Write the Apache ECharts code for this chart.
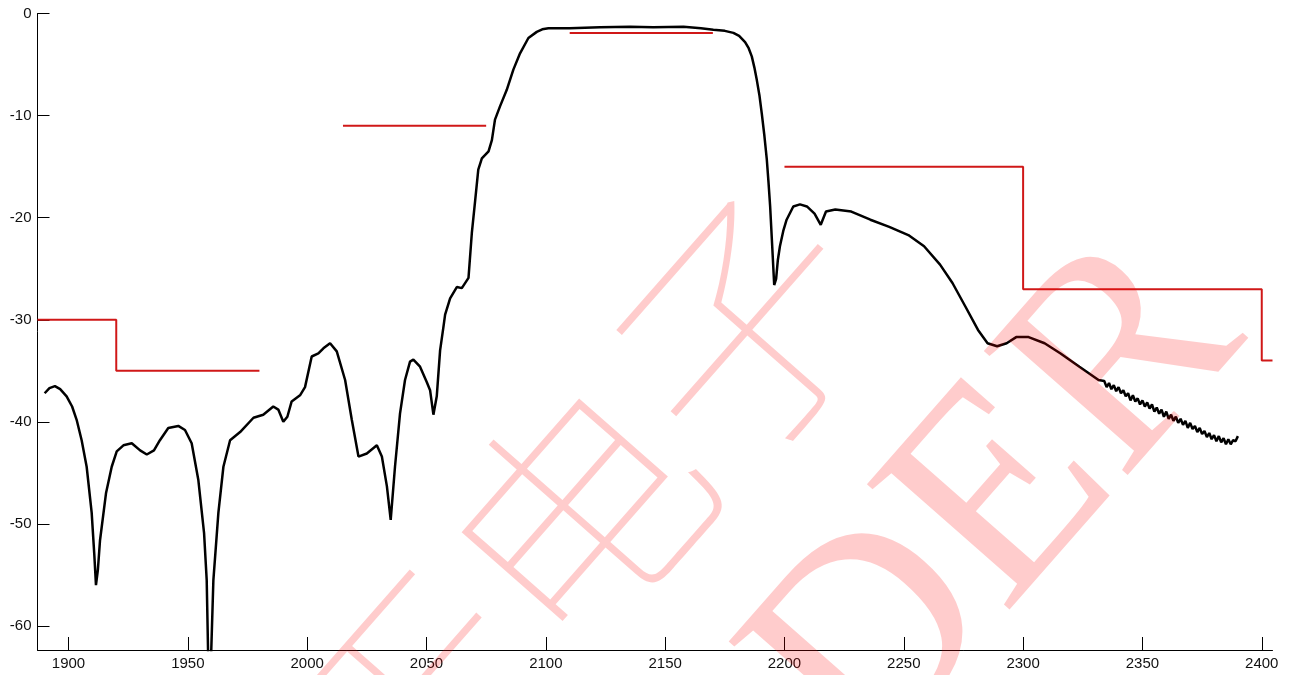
<!DOCTYPE html>
<html lang="en">
<head>
    <meta charset="UTF-8">
    <title>Filter response</title>
    <script src="https://cdn.jsdelivr.net/npm/echarts@6/dist/echarts.min.js"></script>
    <style>
        html, body { margin: 0; padding: 0; background: #fff; }
        #chart { width: 1292px; height: 675px; }
    </style>
</head>
<body>
<div id="chart"></div>
<script>
    // measured response (MHz, dB)
    var freq = [1890.0, 1892.0, 1894.3, 1896.5, 1899.2, 1901.5, 1903.4, 1905.5, 1907.6, 1909.7,
        1910.8, 1911.5, 1912.3, 1913.2, 1915.7, 1918.1, 1920.2, 1923.0, 1926.5, 1930.0,
        1932.8, 1935.8, 1938.3, 1941.8, 1946.0, 1948.8, 1951.6, 1954.4, 1956.8, 1957.9,
        1958.6, 1959.6, 1960.7, 1962.8, 1964.9, 1967.7, 1971.9, 1977.5, 1981.6, 1985.8,
        1987.9, 1990.0, 1991.7, 1993.5, 1997.0, 1999.1, 2001.9, 2004.7, 2006.8, 2009.6,
        2012.4, 2015.9, 2018.7, 2021.5, 2025.0, 2029.2, 2031.3, 2033.4, 2035.0, 2036.8,
        2038.9, 2041.0, 2043.1, 2044.5, 2047.3, 2050.1, 2051.5, 2052.9, 2054.3, 2055.7,
        2057.1, 2057.8, 2059.9, 2062.7, 2064.8, 2067.6, 2069.0, 2070.4, 2071.7, 2073.2,
        2076.0, 2077.4, 2078.7, 2080.8, 2083.6, 2086.4, 2089.2, 2092.7, 2096.2, 2098.5,
        2101.1, 2110.0, 2122.7, 2135.3, 2145.0, 2157.7, 2165.0, 2170.2, 2175.0, 2178.6,
        2181.0, 2183.5, 2185.0, 2186.3, 2187.4, 2188.4, 2189.5, 2190.5, 2191.6, 2192.6,
        2193.3, 2194.0, 2194.8, 2195.7, 2196.5, 2197.2, 2198.1, 2199.5, 2200.9, 2203.7,
        2206.5, 2209.4, 2212.6, 2215.2, 2217.4, 2221.3, 2228.0, 2236.0, 2243.9, 2251.9,
        2258.5, 2265.2, 2270.4, 2275.8, 2281.1, 2285.1, 2289.1, 2293.1, 2297.1, 2302.3,
        2309.0, 2315.7, 2323.6, 2331.6, 2334, 2335, 2336, 2337, 2338, 2339, 2340,
        2341, 2342, 2343, 2344, 2345, 2346, 2347, 2348, 2349, 2350,
        2351, 2352, 2353, 2354, 2355, 2356, 2357, 2358, 2359, 2360,
        2361, 2362, 2363, 2364, 2365, 2366, 2367, 2368, 2369, 2370,
        2371, 2372, 2373, 2374, 2375, 2376, 2377, 2378, 2379, 2380,
        2381, 2382, 2383, 2384, 2385, 2386, 2387, 2388, 2389, 2390];
    var loss = [-37.2, -36.7, -36.5, -36.8, -37.5, -38.5, -39.8, -41.8, -44.4, -48.9,
        -53.0, -56.0, -54.5, -51.6, -47.0, -44.4, -42.9, -42.3, -42.1, -42.8,
        -43.2, -42.8, -41.8, -40.6, -40.4, -40.8, -42.1, -45.7, -50.9, -55.5,
        -64.0, -64.0, -55.5, -48.9, -44.4, -41.8, -41.0, -39.6, -39.3, -38.5,
        -38.8, -40.0, -39.5, -38.0, -37.4, -36.6, -33.6, -33.3, -32.8, -32.3,
        -33.1, -35.9, -39.8, -43.4, -43.1, -42.3, -43.4, -46.3, -49.6, -44.4,
        -39.2, -35.9, -34.1, -33.9, -34.6, -36.1, -36.9, -39.3, -37.5, -33.0,
        -30.7, -29.5, -27.9, -26.8, -26.9, -25.9, -21.5, -18.3, -15.3, -14.2,
        -13.5, -12.4, -10.4, -9.1, -7.5, -5.5, -3.9, -2.4, -1.8, -1.55,
        -1.45, -1.45, -1.35, -1.3, -1.35, -1.3, -1.45, -1.6, -1.7, -1.9,
        -2.2, -2.8, -3.4, -4.2, -5.3, -6.5, -8.0, -9.8, -12.0, -14.3,
        -16.5, -18.9, -22.5, -26.6, -26.0, -24.2, -22.8, -21.3, -20.2, -18.9,
        -18.7, -18.9, -19.6, -20.7, -19.4, -19.2, -19.4, -20.2, -20.9, -21.7,
        -22.8, -24.6, -26.4, -28.7, -31.0, -32.3, -32.6, -32.3, -31.7, -31.7,
        -32.3, -33.3, -34.6, -35.9, -36.0, -36.6, -36.2, -36.8, -36.4, -37.0, -36.6,
        -37.2, -36.9, -37.5, -37.2, -37.9, -37.4, -38.0, -37.7, -38.3, -37.9,
        -38.5, -38.1, -38.7, -38.3, -39.0, -38.6, -39.2, -38.8, -39.5, -39.0,
        -39.7, -39.3, -39.9, -39.5, -40.1, -39.7, -40.3, -39.9, -40.6, -40.1,
        -40.7, -40.4, -41.0, -40.6, -41.2, -40.9, -41.5, -41.1, -41.7, -41.3,
        -41.9, -41.4, -42.0, -41.6, -42.2, -41.7, -42.2, -41.8, -41.9, -41.4];

    // spec mask, null = gap
    var maskX = [1887, 1920, 1920, 1980, null, 2015, 2075, null, 2110, 2170, null, 2200, 2300, 2300, 2400, 2400, 2404.5];
    var maskY = [-30, -30, -35, -35, null, -11, -11, null, -1.9, -1.9, null, -15, -15, -27, -27, -34, -34];

    var xTicks = [1900, 1950, 2000, 2050, 2100, 2150, 2200, 2250, 2300, 2350, 2400];
    var yTicks = [0, -10, -20, -30, -40, -50, -60];

    var respData = freq.map(function (f, i) { return [f, loss[i]]; });
    var maskData = maskX.map(function (x, i) {
        return maskY[i] == null ? ['-', '-'] : [x, maskY[i]];
    });

    var chart = echarts.init(document.getElementById('chart'));
    var labelStyle = {
        color: '#111', fontSize: 15, fontFamily: 'Liberation Sans, Arial, sans-serif',
        formatter: function (v) { return String(v); }
    };
    var wm = { fill: 'rgba(255,0,0,0.2)', align: 'center', verticalAlign: 'middle' };

    chart.setOption({
        animation: false,
        backgroundColor: '#fff',
        grid: { left: 37.5, right: 19.5, top: 13.5, bottom: 25 },
        xAxis: {
            type: 'value', min: 1887, max: 2404.5,
            axisLine: { onZero: false, lineStyle: { color: '#000', width: 1 } },
            axisTick: { inside: true, length: 13, customValues: xTicks, lineStyle: { color: '#000' } },
            axisLabel: Object.assign({ margin: 6, customValues: xTicks }, labelStyle),
            splitLine: { show: false }
        },
        yAxis: {
            type: 'value', min: -62.35, max: 0,
            axisLine: { show: true, onZero: false, lineStyle: { color: '#000', width: 1 } },
            axisTick: { show: true, inside: true, length: 12, customValues: yTicks, lineStyle: { color: '#000' } },
            axisLabel: Object.assign({ margin: 6, customValues: yTicks }, labelStyle),
            splitLine: { show: false }
        },
        series: [
            {
                type: 'line', data: maskData, showSymbol: false, connectNulls: false,
                lineStyle: { color: '#d01818', width: 2 }, z: 2
            },
            {
                type: 'line', data: respData, showSymbol: false,
                lineStyle: { color: '#000', width: 2.5 }, z: 3
            }
        ],
        graphic: [
            {
                type: 'text', x: 578, y: 515, rotation: 0.85, z: 100,
                style: Object.assign({}, wm, {
                    text: '天电子', fontSize: 250, fontWeight: 100,
                    fontFamily: '"Noto Sans CJK SC", "Noto Sans CJK JP", sans-serif'
                })
            },
            {
                type: 'text', x: 1000, y: 505, rotation: 0.85, z: 100,
                style: Object.assign({}, wm, {
                    text: 'DER', fontSize: 290,
                    fontFamily: '"Liberation Serif", "DejaVu Serif", serif'
                })
            }
        ]
    });
</script>
</body>
</html>
